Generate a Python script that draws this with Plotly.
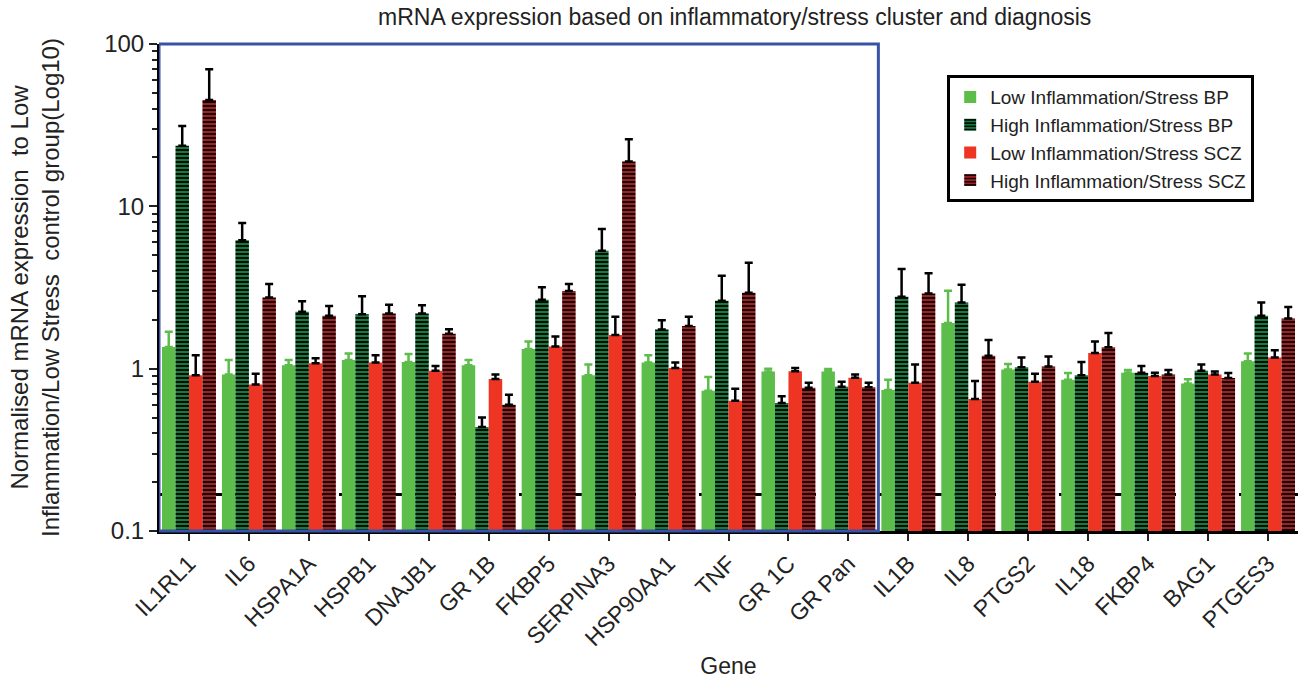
import plotly.graph_objects as go

genes = ["IL1RL1", "IL6", "HSPA1A", "HSPB1", "DNAJB1", "GR 1B", "FKBP5", "SERPINA3",
         "HSP90AA1", "TNF", "GR 1C", "GR Pan", "IL1B", "IL8", "PTGS2", "IL18",
         "FKBP4", "BAG1", "PTGES3"]

series_names = ["Low Inflammation/Stress BP", "High Inflammation/Stress BP",
                "Low Inflammation/Stress SCZ", "High Inflammation/Stress SCZ"]

low_bp = [1.36, 0.92, 1.05, 1.13, 1.10, 1.05, 1.32, 0.91, 1.09, 0.73, 0.96, 0.96,
          0.74, 1.91, 0.99, 0.855, 0.945, 0.81, 1.11]
low_bp_upper = [1.69, 1.13, 1.13, 1.24, 1.23, 1.13, 1.47, 1.06, 1.21, 0.89, 1.00, 0.995,
                0.855, 3.02, 1.07, 0.94, 0.98, 0.86, 1.24]

high_bp = [23.6, 6.18, 2.24, 2.16, 2.19, 0.437, 2.66, 5.33, 1.74, 2.62, 0.615, 0.775,
           2.77, 2.56, 1.02, 0.91, 0.945, 0.97, 2.12]
high_bp_upper = [31.3, 7.9, 2.6, 2.79, 2.46, 0.50, 3.17, 7.26, 1.99, 3.74, 0.676, 0.83,
                 4.11, 3.29, 1.17, 1.10, 1.04, 1.06, 2.56]

low_scz = [0.91, 0.80, 1.08, 1.09, 0.97, 0.865, 1.37, 1.61, 1.01, 0.635, 0.964, 0.88,
           0.82, 0.65, 0.83, 1.25, 0.90, 0.92, 1.17]
low_scz_upper = [1.21, 0.93, 1.16, 1.21, 1.04, 0.92, 1.58, 2.09, 1.09, 0.753, 1.01, 0.92,
                 1.06, 0.84, 0.93, 1.47, 0.945, 0.96, 1.30]

high_scz = [45.2, 2.74, 2.12, 2.19, 1.64, 0.60, 3.01, 18.9, 1.83, 2.94, 0.764, 0.767,
            2.90, 1.20, 1.03, 1.355, 0.92, 0.877, 2.04]
high_scz_upper = [70.0, 3.32, 2.43, 2.48, 1.75, 0.69, 3.32, 25.9, 2.09, 4.5, 0.82, 0.82,
                  3.87, 1.50, 1.19, 1.66, 0.98, 0.94, 2.40]

reference_level = 0.168
boxed_genes = 12

y_tickvals = [0.1, 1, 10, 100]
y_ticktext = ["0.1", "1", "10", "100"]
y_minor = [m * 10 ** e for e in (-1, 0, 1) for m in range(2, 10)]

LIGHT_GREEN = "#5cbd4b"
DARK_GREEN = "#147b3f"
RED = "#ee3524"
DARK_RED = "#a31f22"
FONT = "Liberation Sans, Arial, sans-serif"
TXT = "#222222"

values = [low_bp, high_bp, low_scz, high_scz]
uppers = [low_bp_upper, high_bp_upper, low_scz_upper, high_scz_upper]
colors = [LIGHT_GREEN, DARK_GREEN, RED, DARK_RED]
striped = [False, True, False, True]
err_colors = [LIGHT_GREEN, "black", "black", "black"]

fig = go.Figure()
for name, vals, ups, col, st, ec in zip(series_names, values, uppers, colors, striped, err_colors):
    marker = dict(color=col, line=dict(width=0))
    if st:
        marker["pattern"] = dict(shape="-", fgcolor="black", bgcolor=col,
                                 size=4, solidity=0.45, fillmode="replace")
    fig.add_trace(go.Bar(
        x=genes, y=vals, name=name, marker=marker,
        error_y=dict(type="data", symmetric=False,
                     array=[u - v for u, v in zip(ups, vals)],
                     arrayminus=[0] * len(vals),
                     color=ec, thickness=2.5, width=4),
    ))

fig.add_shape(type="line", xref="x", yref="y", x0=-0.5, x1=len(genes) - 0.5,
              y0=reference_level, y1=reference_level,
              line=dict(color="black", width=3, dash="dash"), layer="below")
fig.add_shape(type="rect", xref="x", yref="paper", x0=-0.5, x1=boxed_genes - 0.5,
              y0=0, y1=1, line=dict(color="#3953a4", width=3), layer="above")

fig.update_layout(
    width=1298, height=686, autosize=False,
    paper_bgcolor="white", plot_bgcolor="white",
    margin=dict(l=159, r=0, t=44, b=155, autoexpand=False),
    barmode="group", bargap=0.1, bargroupgap=0,
    font=dict(family=FONT, color=TXT),
    title=dict(text="mRNA expression based on inflammatory/stress cluster and diagnosis",
               x=0.566, xanchor="center", y=0.975, yanchor="middle",
               font=dict(size=23, family=FONT, color=TXT)),
    legend=dict(x=0.692, xanchor="left", y=0.936, yanchor="top",
                bgcolor="white", bordercolor="black", borderwidth=3,
                font=dict(size=19, family=FONT, color=TXT)),
    xaxis=dict(range=[-0.5, len(genes) - 0.5], tickangle=-45, automargin=False,
               showline=True, linecolor="black", linewidth=3,
               ticks="outside", ticklen=7, tickwidth=2, tickcolor=TXT,
               tickfont=dict(size=23, family=FONT, color=TXT),
               title=dict(text="Gene", font=dict(size=23, family=FONT, color=TXT), standoff=8),
               showgrid=False, zeroline=False),
    yaxis=dict(type="log", range=[-1, 2], automargin=False,
               tickvals=y_tickvals, ticktext=y_ticktext,
               showline=True, linecolor="black", linewidth=2,
               ticks="outside", ticklen=8, tickwidth=2, tickcolor=TXT,
               minor=dict(tickvals=y_minor, ticks="outside", ticklen=5,
                          tickwidth=1.5, tickcolor=TXT, showgrid=False),
               tickfont=dict(size=24, family=FONT, color=TXT),
               title=dict(text="Normalised mRNA expression  to Low<br>Inflammation/Low Stress  control group(Log10)",
                          font=dict(size=24, family=FONT, color=TXT), standoff=38),
               showgrid=False, zeroline=False),
)

fig.write_html("out.html", config={"displayModeBar": False},
               post_script="document.body.style.margin='0px';document.body.style.overflow='hidden';")
